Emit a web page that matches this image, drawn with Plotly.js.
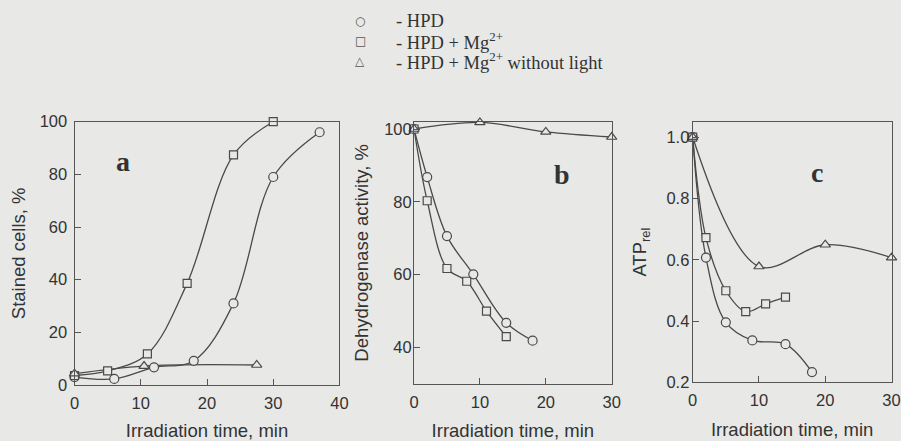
<!DOCTYPE html>
<html>
<head>
<meta charset="utf-8">
<script src="https://cdn.plot.ly/plotly-3.0.1.min.js"></script>
<style>html,body{margin:0;padding:0;background:#e8e8e6;}#chart{width:901px;height:441px;}</style>
</head>
<body>
<div id="chart"></div>
<script>
// Series names (legend)
const seriesNames = ['- HPD', '- HPD + Mg<sup>2+</sup>', '- HPD + Mg<sup>2+</sup> without light'];
const legendGlyphs = ['○', '□', '△'];

// Panel a: stained cells, %
const aHpdX = [0, 6, 12, 18, 24, 30, 37];
const aHpdY = [3, 2.3, 6.7, 9.2, 31, 79, 96];
const aMgX = [0, 5, 11, 17, 24, 30];
const aMgY = [3.6, 5.4, 11.8, 38.6, 87.4, 100];
const aDarkX = [0, 10.5, 27.5];
const aDarkY = [4.3, 7.2, 7.6];

// Panel b: dehydrogenase activity, %
const bHpdX = [0, 2, 5, 9, 14, 18];
const bHpdY = [100, 86.8, 70.6, 60.1, 46.8, 41.9];
const bMgX = [0, 2, 5, 8, 11, 14];
const bMgY = [100, 80.3, 61.7, 58.2, 50, 43];
const bDarkX = [0, 10, 20, 30];
const bDarkY = [100, 101.8, 99.2, 97.8];

// Panel c: ATP rel
const cHpdX = [0, 2, 5, 9, 14, 18];
const cHpdY = [1.0, 0.607, 0.396, 0.337, 0.325, 0.234];
const cMgX = [0, 2, 5, 8, 11, 14];
const cMgY = [1.0, 0.672, 0.499, 0.431, 0.456, 0.478];
const cDarkX = [0, 10, 20, 30];
const cDarkY = [1.0, 0.578, 0.649, 0.607];

// Tick values
const aXTicks = [0, 10, 20, 30, 40];
const aYTicks = [0, 20, 40, 60, 80, 100];
const bXTicks = [0, 10, 20, 30];
const bYTicks = [40, 60, 80, 100];
const cXTicks = [0, 10, 20, 30];
const cYTicks = [0.2, 0.4, 0.6, 0.8, 1.0];

const ink = '#4a4a4a';
const bg = '#e8e8e6';
const symbols = ['circle', 'square', 'triangle-up'];
const msize = [9, 8, 9];

const panels = [
  {xa: 'x', ya: 'y', data: [[aHpdX, aHpdY], [aMgX, aMgY], [aDarkX, aDarkY]]},
  {xa: 'x2', ya: 'y2', data: [[bHpdX, bHpdY], [bMgX, bMgY], [bDarkX, bDarkY]]},
  {xa: 'x3', ya: 'y3', data: [[cHpdX, cHpdY], [cMgX, cMgY], [cDarkX, cDarkY]]}
];

const traces = [];
panels.forEach((p) => {
  p.data.forEach((d) => {
    traces.push({
      x: d[0], y: d[1], xaxis: p.xa, yaxis: p.ya,
      mode: 'lines', type: 'scatter', showlegend: false, hoverinfo: 'skip',
      line: {color: ink, width: 1.3, shape: 'spline', smoothing: 1}
    });
  });
});
panels.forEach((p) => {
  p.data.forEach((d, si) => {
    traces.push({
      x: d[0], y: d[1], xaxis: p.xa, yaxis: p.ya,
      mode: 'markers', type: 'scatter', name: seriesNames[si],
      showlegend: false, cliponaxis: false,
      marker: {symbol: symbols[si], size: msize[si], color: bg, line: {color: ink, width: 1.2}}
    });
  });
});

const tickFont = {family: 'Liberation Sans, Arial, sans-serif', size: 16.5, color: '#333'};
const titleFont = {family: 'Liberation Sans, Arial, sans-serif', size: 18.5, color: '#333'};

function axis(domain, range, ticks, extra) {
  return Object.assign({
    domain: domain, range: range, tickvals: ticks, ticks: 'inside', ticklen: 6,
    tickcolor: '#555', tickwidth: 1, showline: true, linecolor: '#555', linewidth: 1,
    mirror: true, showgrid: false, zeroline: false, tickfont: tickFont, fixedrange: true
  }, extra || {});
}

const legendAnnotations = [];
seriesNames.forEach((name, i) => {
  const yy = 1 - (21 + 20 * i) / 441;
  legendAnnotations.push({xref: 'paper', yref: 'paper', x: 360 / 901, y: yy, xanchor: 'center', yanchor: 'middle',
    text: legendGlyphs[i], showarrow: false, font: {family: 'DejaVu Sans, sans-serif', size: 12, color: '#555'}});
  legendAnnotations.push({xref: 'paper', yref: 'paper', x: 394 / 901, y: yy, xanchor: 'left', yanchor: 'middle',
    text: name, showarrow: false, font: {family: 'Liberation Serif, Times New Roman, serif', size: 18.5, color: '#333'}});
});

const letterFont = {family: 'Liberation Serif, serif', size: 28, color: '#333'};

const layout = {
  width: 901, height: 441,
  margin: {l: 0, r: 0, t: 0, b: 0},
  paper_bgcolor: bg, plot_bgcolor: bg,
  showlegend: false,
  xaxis: axis([0.0827, 0.3768], [0, 40], aXTicks, {anchor: 'y', ticklabelstandoff: 3, title: {text: 'Irradiation time, min', font: titleFont, standoff: 14}}),
  yaxis: axis([0.1270, 0.7240], [0, 100], aYTicks, {anchor: 'x', ticklabelstandoff: 3, title: {text: 'Stained cells, %', font: titleFont, standoff: 9}}),
  xaxis2: axis([0.4595, 0.6789], [0, 30], bXTicks, {anchor: 'y2', ticklabelstandoff: 3, title: {text: 'Irradiation time, min', font: titleFont, standoff: 14}}),
  yaxis2: axis([0.1293, 0.7240], [30, 102], bYTicks, {anchor: 'x2', ticklabelstandoff: -2, title: {text: 'Dehydrogenase activity, %', font: titleFont, standoff: 10}}),
  xaxis3: axis([0.7688, 0.9895], [0, 30], cXTicks, {anchor: 'y3', ticklabelstandoff: 3, title: {text: 'Irradiation time, min', font: titleFont, standoff: 14}}),
  yaxis3: axis([0.1327, 0.7240], [0.2, 1.05], cYTicks, {anchor: 'x3', tickformat: '.1f', ticklabelstandoff: -1, title: {text: 'ATP<sub>rel</sub>', font: titleFont, standoff: 14}}),
  annotations: [
    {xref: 'x', yref: 'y', x: 7.3, y: 84.7, text: '<b>a</b>', showarrow: false, font: letterFont},
    {xref: 'x2', yref: 'y2', x: 22.4, y: 87.4, text: '<b>b</b>', showarrow: false, font: letterFont},
    {xref: 'x3', yref: 'y3', x: 18.8, y: 0.886, text: '<b>c</b>', showarrow: false, font: letterFont}
  ].concat(legendAnnotations)
};

Plotly.newPlot('chart', traces, layout, {displayModeBar: false, staticPlot: true});
</script>
</body>
</html>
